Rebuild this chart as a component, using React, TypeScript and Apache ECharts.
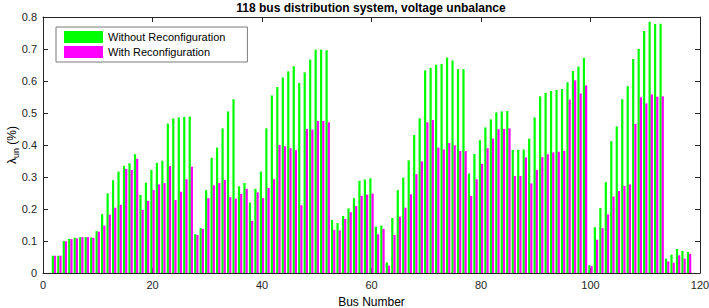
import React, { useEffect, useRef } from "react";
import * as echarts from "echarts";

const buses: number[] = Array.from({ length: 118 }, (_, i) => i + 1);

const withoutReconfig: number[] = [
  0, 0.054, 0.054, 0.1, 0.107, 0.11, 0.112, 0.112, 0.111, 0.131,
  0.184, 0.249, 0.29, 0.317, 0.335, 0.343, 0.371, 0.244, 0.282, 0.322,
  0.344, 0.351, 0.467, 0.483, 0.486, 0.488, 0.489, 0.121, 0.14, 0.259,
  0.36, 0.392, 0.452, 0.505, 0.543, 0.271, 0.281, 0.22, 0.263, 0.317,
  0.452, 0.555, 0.581, 0.611, 0.63, 0.646, 0.594, 0.627, 0.667, 0.698,
  0.698, 0.696, 0.166, 0.156, 0.178, 0.202, 0.234, 0.288, 0.292, 0.296,
  0.145, 0.148, 0.033, 0.172, 0.259, 0.298, 0.352, 0.431, 0.483, 0.633,
  0.641, 0.651, 0.653, 0.673, 0.664, 0.637, 0.637, 0.311, 0.372, 0.415,
  0.455, 0.48, 0.502, 0.505, 0.506, 0.384, 0.385, 0.386, 0.42, 0.486,
  0.552, 0.563, 0.569, 0.572, 0.575, 0.596, 0.631, 0.645, 0.672, 0.024,
  0.143, 0.203, 0.284, 0.412, 0.458, 0.543, 0.584, 0.669, 0.7, 0.756,
  0.785, 0.778, 0.779, 0.045, 0.057, 0.075, 0.069, 0.066,
];

const withReconfig: number[] = [
  0, 0.054, 0.054, 0.099, 0.106, 0.108, 0.112, 0.112, 0.11, 0.129,
  0.148, 0.182, 0.204, 0.213, 0.325, 0.322, 0.357, 0.197, 0.225, 0.259,
  0.277, 0.281, 0.334, 0.228, 0.254, 0.293, 0.332, 0.119, 0.138, 0.234,
  0.274, 0.281, 0.291, 0.237, 0.232, 0.247, 0.263, 0.163, 0.252, 0.234,
  0.266, 0.293, 0.4, 0.396, 0.39, 0.384, 0.212, 0.45, 0.448, 0.475,
  0.475, 0.471, 0.135, 0.133, 0.169, 0.19, 0.209, 0.241, 0.245, 0.248,
  0.121, 0.138, 0.023, 0.119, 0.176, 0.204, 0.246, 0.309, 0.349, 0.471,
  0.478, 0.392, 0.386, 0.406, 0.399, 0.381, 0.381, 0.241, 0.293, 0.341,
  0.39, 0.42, 0.449, 0.45, 0.452, 0.303, 0.303, 0.361, 0.28, 0.322,
  0.362, 0.371, 0.377, 0.379, 0.382, 0.542, 0.602, 0.561, 0.586, 0.022,
  0.104, 0.14, 0.183, 0.239, 0.256, 0.272, 0.277, 0.466, 0.549, 0.53,
  0.558, 0.551, 0.552, 0.036, 0.032, 0.055, 0.045, 0.06,
];

const seriesNames: string[] = ["Without Reconfiguration", "With Reconfiguration"];
const titleText = "118 bus distribution system, voltage unbalance";
const xAxisTitle = "Bus Number";

const FONT = "'Liberation Sans', Arial, Helvetica, sans-serif";
const AXIS_COLOR = "#262626";

export default function App() {
  const ref = useRef<HTMLDivElement>(null);

  useEffect(() => {
    if (!ref.current) return;
    const chart = echarts.init(ref.current, undefined, { renderer: "svg" });

    const tickStyle = { show: true, inside: true, length: 5, lineStyle: { color: AXIS_COLOR } };
    const lineStyle = { show: true, onZero: false, lineStyle: { color: AXIS_COLOR, width: 1 } };

    chart.setOption({
      animation: false,
      backgroundColor: "#ffffff",
      textStyle: { fontFamily: FONT },
      grid: {
        left: 43,
        right: 9,
        top: 17,
        bottom: 35,
        containLabel: false,
        outerBoundsMode: "none",
      },
      graphic: [
        {
          type: "text",
          x: 371,
          y: 8,
          style: {
            text: titleText,
            fontFamily: "Arial",
            fontWeight: "bold",
            fontSize: 12,
            fill: "#000",
            textAlign: "center",
            textVerticalAlign: "middle",
          },
        },
      ],
      legend: {
        data: seriesNames,
        orient: "vertical",
        left: 56,
        top: 27,
        padding: [4, 22, 4, 8],
        itemWidth: 39,
        itemHeight: 12,
        itemGap: 3,
        icon: "rect",
        backgroundColor: "#ffffff",
        borderColor: "#7a7a7a",
        borderWidth: 1,
        borderRadius: 0,
        textStyle: { fontFamily: FONT, fontSize: 11, color: "#000" },
      },
      xAxis: [
        {
          type: "value",
          min: 0,
          max: 120,
          interval: 20,
          position: "bottom",
          name: xAxisTitle,
          nameLocation: "middle",
          nameGap: 23,
          nameMoveOverlap: false,
          nameTextStyle: { fontFamily: FONT, fontSize: 12, lineHeight: 12, color: "#000" },
          axisLine: lineStyle,
          axisTick: tickStyle,
          axisLabel: { fontFamily: FONT, fontSize: 11, color: AXIS_COLOR, margin: 6 },
          splitLine: { show: false },
        },
        {
          type: "value",
          min: 0,
          max: 120,
          interval: 20,
          position: "top",
          axisLine: lineStyle,
          axisTick: tickStyle,
          axisLabel: { show: false },
          splitLine: { show: false },
        },
      ],
      yAxis: [
        {
          type: "value",
          min: 0,
          max: 0.8,
          interval: 0.1,
          position: "left",
          name: "{a|λ}{b|un}{a| (%)}",
          nameLocation: "middle",
          nameGap: 23,
          nameMoveOverlap: false,
          nameTextStyle: {
            rich: {
              a: { fontFamily: FONT, fontSize: 12, color: "#000", lineHeight: 16 },
              b: { fontFamily: FONT, fontSize: 9, color: "#000", verticalAlign: "bottom", lineHeight: 9 },
            },
          },
          axisLine: lineStyle,
          axisTick: tickStyle,
          axisLabel: {
            fontFamily: FONT,
            fontSize: 11,
            color: AXIS_COLOR,
            margin: 6,
            formatter: (v: number) => (v === 0 ? "0" : v.toFixed(1)),
          },
          splitLine: { show: false },
        },
        {
          type: "value",
          min: 0,
          max: 0.8,
          interval: 0.1,
          position: "right",
          axisLine: lineStyle,
          axisTick: tickStyle,
          axisLabel: { show: false },
          splitLine: { show: false },
        },
      ],
      series: [
        {
          name: seriesNames[0],
          type: "bar",
          xAxisIndex: 0,
          yAxisIndex: 0,
          barWidth: 2.2,
          barGap: "0%",
          itemStyle: { color: "#00ff00" },
          data: buses.map((b, i) => [b, withoutReconfig[i]]),
        },
        {
          name: seriesNames[1],
          type: "bar",
          xAxisIndex: 0,
          yAxisIndex: 0,
          barWidth: 2.2,
          barGap: "0%",
          itemStyle: { color: "#ff00ff" },
          data: buses.map((b, i) => [b, withReconfig[i]]),
        },
      ],
    });

    return () => chart.dispose();
  }, []);

  return (
    <div
      ref={ref}
      style={{ position: "fixed", left: 0, top: 0, width: 709, height: 308 }}
    />
  );
}
